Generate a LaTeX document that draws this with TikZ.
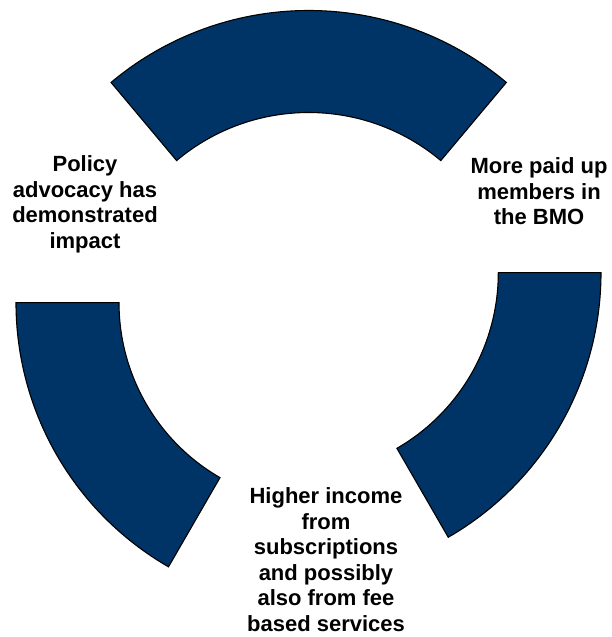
\documentclass[tikz,border=0pt]{standalone}
\usepackage{fontspec}
\setmainfont{Liberation Sans}
\definecolor{navy}{RGB}{0,51,102}
\begin{document}
\begin{tikzpicture}[x=1pt,y=1pt,
  arcseg/.style={fill=navy,draw=black,line width=1.1pt,line join=miter},
  caption/.style={align=center,inner sep=0pt,text=black,
    font=\bfseries\fontsize{22}{25.5}\selectfont}]
  \useasboundingbox (0,0) rectangle (612,637);
  % centres of the three block arcs
  \coordinate (ctop) at (308.7,319);
  \coordinate (cright) at (295.5,364.3);
  \coordinate (cleft) at (321,334.3);
  % top arc
  \path[arcseg] ([shift={(50:307.5)}]ctop) arc[start angle=50,end angle=130,radius=307.5]
    -- ([shift={(130:205.5)}]ctop) arc[start angle=130,end angle=50,radius=205.5] -- cycle;
  % right arc
  \path[arcseg] ([shift={(0:305.5)}]cright) arc[start angle=0,end angle=-60,radius=305.5]
    -- ([shift={(-60:202.8)}]cright) arc[start angle=-60,end angle=0,radius=202.8] -- cycle;
  % left arc
  \path[arcseg] ([shift={(180:305)}]cleft) arc[start angle=180,end angle=240,radius=305]
    -- ([shift={(240:202)}]cleft) arc[start angle=240,end angle=180,radius=202] -- cycle;
  % labels
  \node[caption] (policy) at (85,432.7) {Policy\\advocacy has\\demonstrated\\impact};
  \node[caption] (members) at (539,445.5) {More paid up\\members in\\the BMO};
  \node[caption] (income) at (326,77.5) {Higher income\\from\\subscriptions\\and possibly\\also from fee\\based services};
\end{tikzpicture}
\end{document}
